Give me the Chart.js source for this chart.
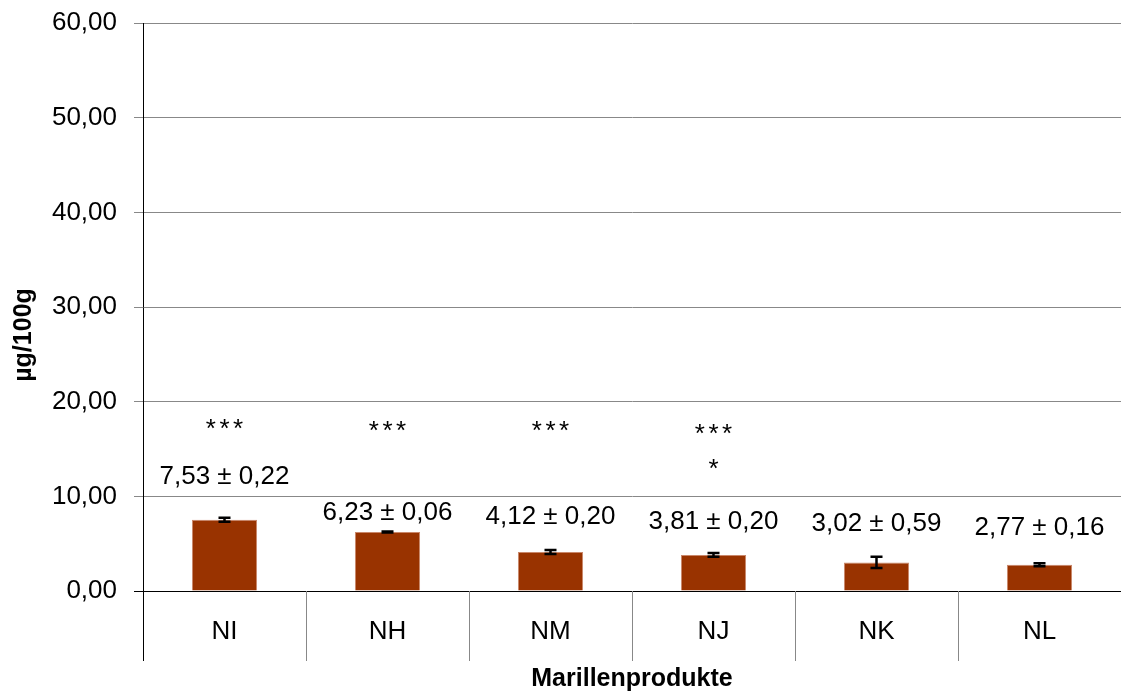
<!DOCTYPE html>
<html>
<head>
<meta charset="utf-8">
<script src="https://cdn.jsdelivr.net/npm/chart.js@4"></script>
<style>
    html, body { margin: 0; padding: 0; background: #fff; }
    #wrap { width: 1121px; height: 695px; }
</style>
</head>
<body>
<div id="wrap"><canvas id="marillen"></canvas></div>
<script>
var categories = ['NI', 'NH', 'NM', 'NJ', 'NK', 'NL'];
var means = [7.53, 6.23, 4.12, 3.81, 3.02, 2.77];
var sds = [0.22, 0.06, 0.20, 0.20, 0.59, 0.16];
var stars = [['***'], ['***'], ['***'], ['***', '*'], [], []];

// where the value label and the star lines sit, in axis units
var labelAt = [12.04, 8.24, 7.82, 7.29, 7.08, 6.65];
var starAt = [[17.4], [17.2], [17.2], [16.9, 13.2], [], []];

var FONT = '"Liberation Sans", Arial, sans-serif';

function fmt(v) {
    return v.toFixed(2).replace('.', ',');
}

var annotations = {
    id: 'annotations',
    afterDatasetsDraw: function (c) {
        var ctx = c.ctx;
        var y = c.scales.y;
        var area = c.chartArea;
        var bars = c.getDatasetMeta(0).data;
        var bottom = area.bottom + 70;
        var step = (area.right - area.left) / categories.length;

        ctx.save();
        // category separators below the axis
        ctx.lineWidth = 1;
        for (var k = 1; k < categories.length; k++) {
            var sx = Math.round(area.left + k * step) + 0.5;
            ctx.strokeStyle = '#888';
            ctx.beginPath();
            ctx.moveTo(sx, area.bottom);
            ctx.lineTo(sx, bottom);
            ctx.stroke();
        }
        ctx.strokeStyle = '#000';
        ctx.beginPath();
        ctx.moveTo(Math.round(area.left) + 0.5, area.bottom);
        ctx.lineTo(Math.round(area.left) + 0.5, bottom);
        ctx.stroke();

        // error bars
        ctx.lineWidth = 2.5;
        ctx.strokeStyle = '#000';
        for (var i = 0; i < means.length; i++) {
            var x = bars[i].x;
            var hi = y.getPixelForValue(means[i] + sds[i]);
            var lo = y.getPixelForValue(means[i] - sds[i]);
            ctx.beginPath();
            ctx.moveTo(x, hi); ctx.lineTo(x, lo);
            ctx.moveTo(x - 6, hi); ctx.lineTo(x + 6, hi);
            ctx.moveTo(x - 6, lo); ctx.lineTo(x + 6, lo);
            ctx.stroke();
        }

        // value labels and significance stars
        ctx.fillStyle = '#000';
        ctx.textAlign = 'center';
        for (var j = 0; j < means.length; j++) {
            var cx = bars[j].x;
            ctx.font = '26px ' + FONT;
            ctx.textBaseline = 'middle';
            ctx.fillText(fmt(means[j]) + ' \u00b1 ' + fmt(sds[j]), cx, y.getPixelForValue(labelAt[j]));
            ctx.textBaseline = 'alphabetic';
            ctx.letterSpacing = '3.5px';
            for (var s = 0; s < stars[j].length; s++) {
                ctx.fillText(stars[j][s], cx + 1.75, y.getPixelForValue(starAt[j][s]) + 11);
            }
            ctx.letterSpacing = '0px';
        }

        // y axis title
        ctx.font = 'bold 25px ' + FONT;
        ctx.textBaseline = 'middle';
        ctx.translate(24, 335);
        ctx.rotate(-Math.PI / 2);
        ctx.fillText('\u00b5g/100g', 0, 0);
        ctx.restore();
    }
};

var chart = {
    init: function (selector) {
        var ctx = document.getElementById(selector).getContext('2d');
        new Chart(ctx, chart.configData());
    },

    configData: function () {
        return {
            type: 'bar',
            data: {
                labels: categories,
                datasets: [{
                    data: means,
                    backgroundColor: '#993300',
                    borderColor: '#c9876a',
                    borderWidth: { left: 1, right: 1, top: 1, bottom: 0 },
                    categoryPercentage: 1.0,
                    barPercentage: 0.4
                }]
            },
            options: {
                responsive: true,
                maintainAspectRatio: false,
                animation: false,
                layout: { padding: { top: 23, right: 0, bottom: 0, left: 0 } },
                plugins: {
                    legend: { display: false },
                    tooltip: { enabled: false }
                },
                scales: {
                    x: {
                        grid: { display: false, drawTicks: false },
                        border: { display: true, color: '#000', width: 1 },
                        ticks: {
                            color: '#000',
                            font: { family: FONT, size: 26 },
                            padding: 25
                        },
                        title: {
                            display: true,
                            text: 'Marillenprodukte',
                            color: '#000',
                            font: { family: FONT, size: 25, weight: 'bold' },
                            padding: { top: 0, bottom: 1 }
                        },
                        afterFit: function (s) { s.height = 104; }
                    },
                    y: {
                        min: 0,
                        max: 60,
                        grid: {
                            color: function (c) { return c.tick && c.tick.value === 0 ? '#000' : '#888'; },
                            tickLength: 9,
                            drawTicks: true
                        },
                        border: { display: true, color: '#000', width: 1 },
                        ticks: {
                            stepSize: 10,
                            color: '#000',
                            padding: 17,
                            font: { family: FONT, size: 26 },
                            callback: function (v) { return fmt(v); }
                        },
                        afterFit: function (s) {
                            s.width = 143;
                            s.paddingTop = 0;
                            s.paddingBottom = 0;
                        }
                    }
                }
            },
            plugins: [annotations]
        };
    }
};

chart.init('marillen');
</script>
</body>
</html>
